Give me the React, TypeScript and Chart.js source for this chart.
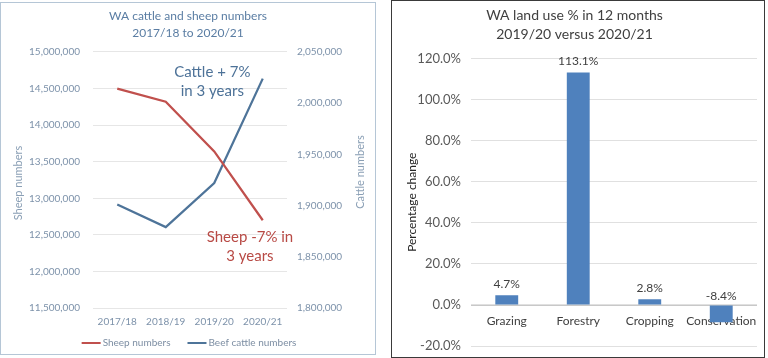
import React, { useEffect, useRef } from 'react';
import { Chart, registerables } from 'chart.js';

Chart.register(...registerables);
Chart.defaults.font.family = 'Lato, "Open Sans", sans-serif';

// ---------- data ----------
const years = ['2017/18', '2018/19', '2019/20', '2020/21'];
const sheepNumbers = [14500000, 14320000, 13640000, 12700000];
const cattleNumbers = [1901000, 1879000, 1922000, 2024000];
const leftTitle = ['WA cattle and sheep numbers', '2017/18 to 2020/21'];
const cattleNote = ['Cattle + 7%', 'in 3 years'];
const sheepNote = ['Sheep -7% in', '3 years'];

const landUses = ['Grazing', 'Forestry', 'Cropping', 'Conservation'];
const landUseChange = [4.7, 113.1, 2.8, -8.4];
const rightTitle = ['WA land use % in 12 months', '2019/20 versus 2020/21'];

// ---------- styles ----------
const RED = '#c0504d';
const BLUE = '#4e7499';
const BAR = '#4f81bd';
const LEFT_TITLE = '#5a7da3';
const LEFT_TICK = '#7d92aa';
const LEFT_AXIS_TITLE = '#8a9fb5';

const fmt = (v: number) => Math.round(v).toLocaleString('en-US');

const leftExtras = {
  id: 'leftExtras',
  afterDatasetsDraw(chart: any) {
    const { ctx, chartArea: a } = chart;
    const w = a.right - a.left;
    const h = a.bottom - a.top;
    ctx.save();
    ctx.textAlign = 'center';
    ctx.textBaseline = 'middle';
    ctx.font = '15px Lato';
    ctx.fillStyle = '#4d7298';
    cattleNote.forEach((t, i) => ctx.fillText(t, a.left + 0.615 * w, a.top + 0.078 * h + i * 19));
    ctx.fillStyle = '#b84a45';
    sheepNote.forEach((t, i) => ctx.fillText(t, a.left + 0.809 * w, a.top + 0.725 * h + i * 19));

    // axis titles (both read bottom-to-top)
    ctx.font = '11px Lato';
    ctx.fillStyle = LEFT_AXIS_TITLE;
    const cy = (a.top + a.bottom) / 2;
    ctx.save();
    ctx.translate(17, cy + 3);
    ctx.rotate(-Math.PI / 2);
    ctx.fillText('Sheep numbers', 0, 0);
    ctx.restore();
    ctx.save();
    ctx.translate(359, cy - 8);
    ctx.rotate(-Math.PI / 2);
    ctx.fillText('Cattle numbers', 0, 0);
    ctx.restore();

    // legend
    ctx.font = '10px Lato';
    ctx.textAlign = 'left';
    const items = chart.data.datasets.map((d: any) => ({ text: d.label, color: d.borderColor }));
    const lineLen = 19;
    const gapText = 2;
    const gapItem = 17;
    const widths = items.map((it: any) => lineLen + gapText + ctx.measureText(it.text).width);
    const total = widths.reduce((s: number, x: number) => s + x, 0) + gapItem * (items.length - 1);
    let x = chart.width / 2 - total / 2 + 1;
    const y = 340;
    items.forEach((it: any, i: number) => {
      ctx.strokeStyle = it.color;
      ctx.lineWidth = 2;
      ctx.beginPath();
      ctx.moveTo(x, y);
      ctx.lineTo(x + lineLen, y);
      ctx.stroke();
      ctx.fillStyle = '#7d8ea3';
      ctx.fillText(it.text, x + lineLen + gapText, y);
      x += widths[i] + gapItem;
    });
    ctx.restore();
  },
};

// keep the plot area bottom 11px above the canvas bottom
const fixPlotBottom = {
  id: 'fixPlotBottom',
  afterLayout(chart: any) {
    const bottom = chart.height - 11;
    const area = chart.chartArea;
    area.bottom = bottom;
    area.height = bottom - area.top;
    const y = chart.scales.y;
    y.bottom = bottom;
    y.height = bottom - y.top;
    y.configure();
    const x = chart.scales.x;
    x.top = bottom;
    x.bottom = bottom;
    x.configure();
  },
};

// category labels placed under the zero line (Excel style), drawn before bars
const barCategoryLabels = {
  id: 'barCategoryLabels',
  beforeDatasetsDraw(chart: any) {
    const { ctx } = chart;
    const xs = chart.scales.x;
    const zero = chart.scales.y.getPixelForValue(0);
    ctx.save();
    ctx.strokeStyle = '#c8c8c8';
    ctx.lineWidth = 1;
    ctx.beginPath();
    ctx.moveTo(chart.chartArea.left, Math.round(zero) + 0.5);
    ctx.lineTo(chart.chartArea.right, Math.round(zero) + 0.5);
    ctx.stroke();
    ctx.font = '12px Lato';
    ctx.fillStyle = '#404040';
    ctx.textAlign = 'center';
    ctx.textBaseline = 'middle';
    chart.data.labels.forEach((lab: string, i: number) => {
      ctx.fillText(lab, xs.getPixelForValue(i), zero + 16);
    });
    ctx.restore();
  },
};

const barLabels = {
  id: 'barLabels',
  afterDatasetsDraw(chart: any) {
    const { ctx } = chart;
    const meta = chart.getDatasetMeta(0);
    const zero = chart.scales.y.getPixelForValue(0);
    ctx.save();
    ctx.font = '12px Lato';
    ctx.fillStyle = '#404040';
    ctx.textAlign = 'center';
    ctx.textBaseline = 'middle';
    meta.data.forEach((el: any, i: number) => {
      const v = landUseChange[i];
      const top = Math.min(el.y, zero);
      ctx.fillText(v.toFixed(1) + '%', el.x, top - (v < 0 ? 9 : 11));
    });
    ctx.restore();
  },
};

function LeftChart() {
  const ref = useRef<HTMLCanvasElement>(null);
  useEffect(() => {
    if (!ref.current) return;
    const chart = new Chart(ref.current, {
      type: 'line',
      data: {
        labels: years,
        datasets: [
          {
            label: 'Sheep numbers',
            data: sheepNumbers,
            borderColor: RED,
            backgroundColor: RED,
            borderWidth: 2.25,
            pointRadius: 0,
            yAxisID: 'ySheep',
          },
          {
            label: 'Beef cattle numbers',
            data: cattleNumbers,
            borderColor: BLUE,
            backgroundColor: BLUE,
            borderWidth: 2.25,
            pointRadius: 0,
            yAxisID: 'yCattle',
          },
        ],
      },
      options: {
        animation: false,
        responsive: false,
        layout: { padding: { left: 0, right: 0, top: 0, bottom: 18 } },
        plugins: {
          legend: { display: false },
          tooltip: { enabled: false },
          title: {
            display: true,
            text: leftTitle,
            color: LEFT_TITLE,
            font: { size: 12, weight: 'normal', lineHeight: 1.4 },
            padding: { top: 5, bottom: 10.4 },
          },
        },
        scales: {
          x: {
            offset: true,
            grid: { display: false, drawTicks: false },
            border: { display: false },
            ticks: { color: LEFT_TICK, font: { size: 10 }, padding: 8, maxRotation: 0, autoSkip: false },
          },
          ySheep: {
            position: 'left',
            min: 11500000,
            max: 15000000,
            ticks: { stepSize: 500000, color: LEFT_TICK, font: { size: 10 }, padding: 13, callback: (v: any) => fmt(v) },
            grid: { color: '#e6e6e6', drawTicks: false },
            border: { display: false },
            afterFit: (s: any) => { s.width = 92; },
          },
          yCattle: {
            position: 'right',
            min: 1800000,
            max: 2050000,
            ticks: { stepSize: 50000, color: LEFT_TICK, font: { size: 10 }, padding: 10, callback: (v: any) => fmt(v) },
            grid: { display: false, drawTicks: false },
            border: { display: false },
            afterFit: (s: any) => { s.width = 88; },
          },
        },
      } as any,
      plugins: [leftExtras],
    });
    return () => chart.destroy();
  }, []);
  return <canvas ref={ref} width={374} height={351} style={{ display: 'block' }} />;
}

function RightChart() {
  const ref = useRef<HTMLCanvasElement>(null);
  useEffect(() => {
    if (!ref.current) return;
    const chart = new Chart(ref.current, {
      type: 'bar',
      data: {
        labels: landUses,
        datasets: [
          {
            label: 'Percentage change',
            data: landUseChange,
            backgroundColor: BAR,
            borderWidth: 0,
            barPercentage: 0.32,
            categoryPercentage: 1,
          },
        ],
      },
      options: {
        animation: false,
        responsive: false,
        layout: { autoPadding: false, padding: { left: 0, right: 7, top: 0, bottom: 11 } },
        plugins: {
          legend: { display: false },
          tooltip: { enabled: false },
          title: {
            display: true,
            text: rightTitle,
            color: '#404040',
            font: { size: 14, weight: 'normal', lineHeight: 1.35 },
            padding: { top: 5, bottom: 14.6 },
          },
        },
        scales: {
          x: {
            position: 'bottom',
            grid: { display: false, drawTicks: false },
            border: { display: false },
            ticks: { display: false },
            afterFit: (s: any) => { s.height = 0; },
          },
          y: {
            min: -20,
            max: 120,
            ticks: { stepSize: 20, color: '#595959', font: { size: 13 }, padding: 10, callback: (v: any) => Number(v).toFixed(1) + '%' },
            grid: { color: '#e0e0e0', drawTicks: false },
            border: { display: false },
            title: { display: true, text: 'Percentage change', color: '#262626', font: { size: 12 }, padding: { top: 12.8, bottom: 0 } },
            afterFit: (s: any) => { s.width = 79; },
          },
        },
      } as any,
      plugins: [fixPlotBottom, barCategoryLabels, barLabels],
    });
    return () => chart.destroy();
  }, []);
  return <canvas ref={ref} width={372} height={356} style={{ display: 'block' }} />;
}

export default function App() {
  return (
    <div style={{ position: 'fixed', left: 0, top: 0, width: 768, height: 358, background: '#fff' }}>
      <div style={{ position: 'absolute', left: 0, top: 2, width: 374, height: 351, border: '1px solid #b5c6d6' }}>
        <LeftChart />
      </div>
      <div style={{ position: 'absolute', left: 391, top: 0, width: 372, height: 356, border: '1px solid #3a3a3a' }}>
        <RightChart />
      </div>
    </div>
  );
}
